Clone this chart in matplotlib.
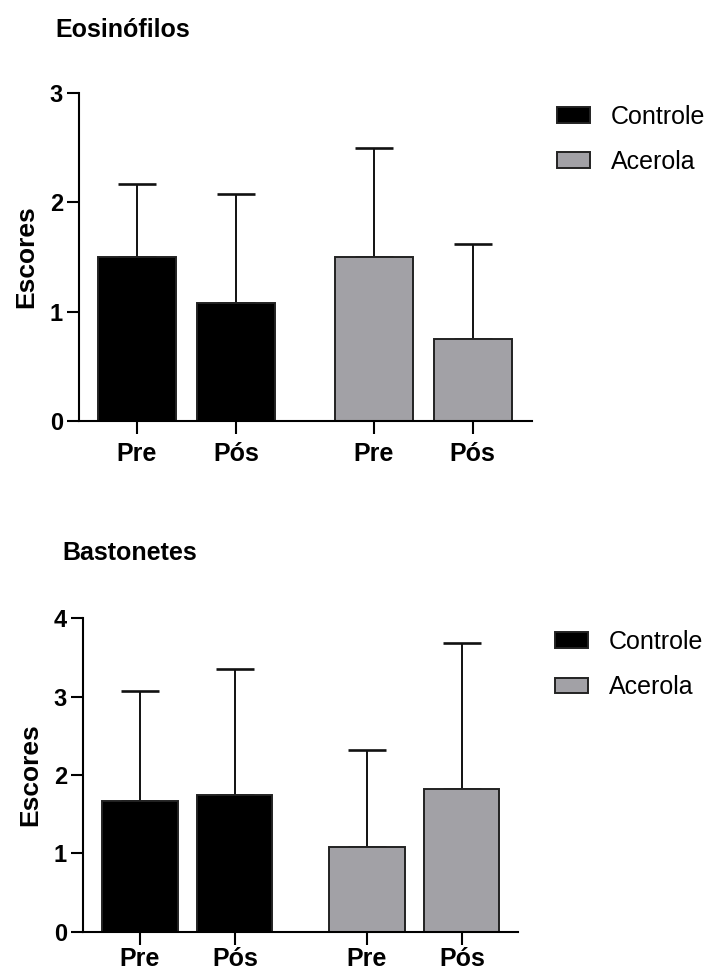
import matplotlib.pyplot as plt
from matplotlib.patches import Patch

plt.rcParams['font.family'] = ['Liberation Sans', 'DejaVu Sans']

# Data
groups = ['Controle', 'Acerola']
tick_labels = ['Pre', 'Pós', 'Pre', 'Pós']
bar_colors = ['black', 'black', '#a2a1a6', '#a2a1a6']

eos_means = [1.5, 1.08, 1.5, 0.75]
eos_sd = [0.67, 1.0, 1.0, 0.87]

bast_means = [1.67, 1.75, 1.08, 1.82]
bast_sd = [1.40, 1.60, 1.24, 1.86]

positions = [0, 1, 2.39, 3.39]

fig = plt.figure(figsize=(7.1, 9.72), dpi=100)


def draw_panel(rect, title, means, sd, ymax, xlim, title_xy, leg_xy, xpad):
    ax = fig.add_axes(rect)
    ax.bar(positions, means, width=0.79, color=bar_colors,
           edgecolor='#222222', linewidth=1.4, zorder=2)
    ax.errorbar(positions, means, yerr=[[0] * len(sd), sd], fmt='none',
                ecolor='#111111', elinewidth=1.4, capsize=13.5,
                capthick=1.9, zorder=1)
    ax.set_xlim(*xlim)
    ax.set_ylim(0, ymax)
    ax.set_yticks(range(ymax + 1))
    ax.set_xticks(positions)
    ax.set_xticklabels(tick_labels)
    for lab in ax.get_xticklabels() + ax.get_yticklabels():
        lab.set_fontweight('bold')
    ax.tick_params(axis='y', labelsize=17, length=8.5, width=1.5, pad=3)
    ax.tick_params(axis='x', labelsize=18, length=9, width=1.5, pad=xpad)
    ax.spines['top'].set_visible(False)
    ax.spines['right'].set_visible(False)
    ax.spines['left'].set_linewidth(1.5)
    ax.spines['bottom'].set_linewidth(1.5)
    ax.set_ylabel('Escores', fontsize=19, fontweight='bold', labelpad=8)
    fig.text(title_xy[0], title_xy[1], title, fontsize=18, fontweight='bold',
             ha='left', va='center')
    handles = [Patch(facecolor='black', edgecolor='#222222', linewidth=1.4),
               Patch(facecolor='#a2a1a6', edgecolor='#222222', linewidth=1.4)]
    fig.legend(handles, groups, loc='upper left', bbox_to_anchor=leg_xy,
               frameon=False, fontsize=18, handlelength=1.32,
               handleheight=0.6, handletextpad=0.85, labelspacing=0.85,
               borderpad=0, borderaxespad=0)
    return ax


draw_panel([79 / 710, 1 - 420.7 / 972, (532 - 79) / 710, (420.7 - 93.3) / 972],
           'Eosinófilos', eos_means, eos_sd, 3, (-0.586, 3.99),
           (55 / 710, 1 - 30 / 972), (557 / 710, 1 - 105 / 972), 6)

draw_panel([83 / 710, 1 - 931.7 / 972, (518 - 83) / 710, (931.7 - 618.3) / 972],
           'Bastonetes', bast_means, bast_sd, 4, (-0.6, 3.98),
           (62 / 710, 1 - 553 / 972), (555 / 710, 1 - 630 / 972), 2)

plt.savefig('out.png', dpi=100)
